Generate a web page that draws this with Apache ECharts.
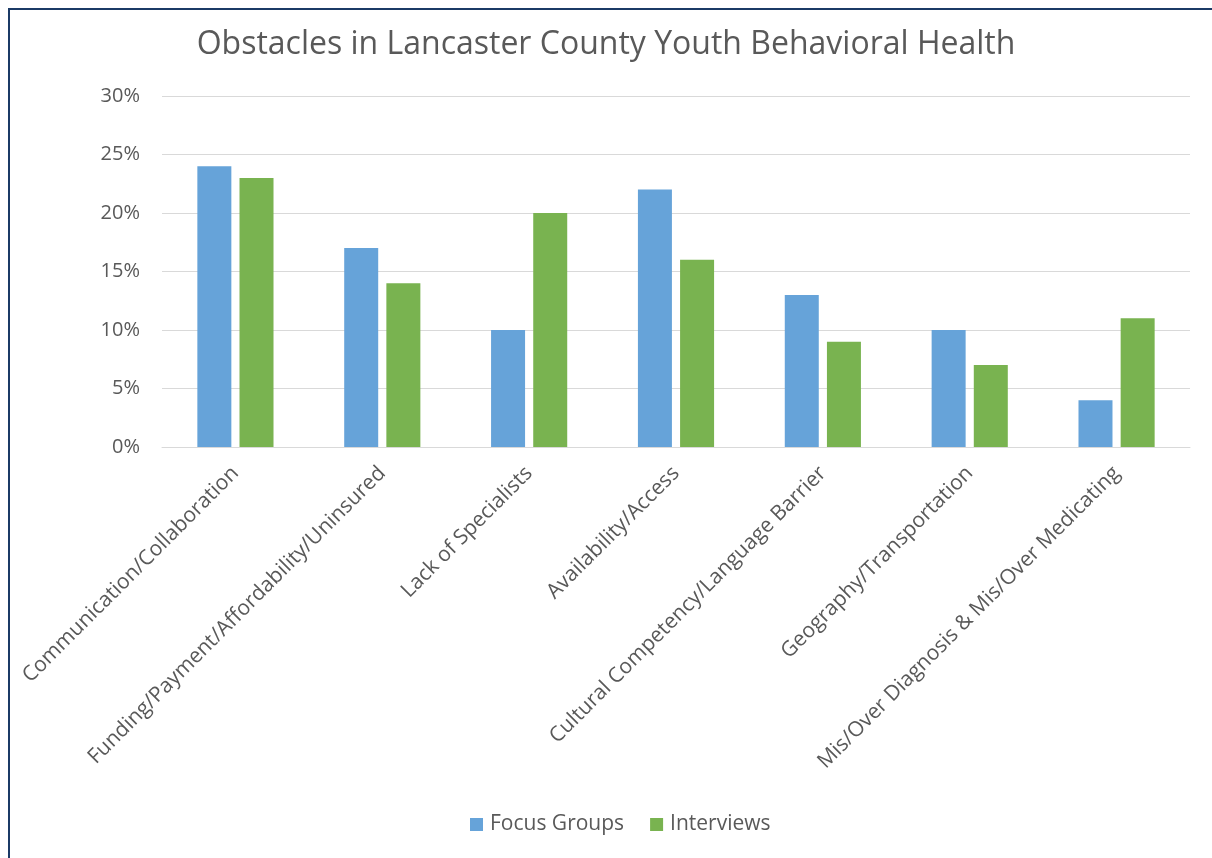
<!DOCTYPE html>
<html>
<head>
<meta charset="utf-8">
<script src="https://cdn.jsdelivr.net/npm/echarts@6/dist/echarts.min.js"></script>
<style>
  html, body { margin: 0; padding: 0; background: #ffffff; }
  #frame {
    position: absolute; left: 8px; top: 8px; width: 1220px; height: 870px;
    border-left: 2px solid #1b3a66; border-top: 2px solid #1b3a66;
    box-sizing: border-box;
  }
  #chart { position: absolute; left: 0; top: 0; width: 1212px; height: 858px; }
</style>
</head>
<body>
<div id="frame"></div>
<div id="chart"></div>
<script>
const categories = [
  'Communication/Collaboration',
  'Funding/Payment/Affordability/Uninsured',
  'Lack of Specialists',
  'Availability/Access',
  'Cultural Competency/Language Barrier',
  'Geography/Transportation',
  'Mis/Over Diagnosis & Mis/Over Medicating'
];
const focusGroups = [24, 17, 10, 22, 13, 10, 4];
const interviews = [23, 14, 20, 16, 9, 7, 11];
const yTicks = { min: 0, max: 30, interval: 5 };

const chart = echarts.init(document.getElementById('chart'));
const font = 'Open Sans, Noto Sans, sans-serif';
chart.setOption({
  animation: false,
  title: {
    text: 'Obstacles in Lancaster County Youth Behavioral Health',
    left: 'center', top: 24,
    textStyle: { fontFamily: font, fontSize: 32, fontWeight: 'normal', color: '#595959' }
  },
  legend: {
    bottom: 18, left: 465,
    itemWidth: 13, itemHeight: 13, itemGap: 26,
    icon: 'rect',
    textStyle: { fontFamily: font, fontSize: 21, color: '#595959', padding: [0, 0, 0, 2] },
    data: ['Focus Groups', 'Interviews']
  },
  grid: { left: 162, right: 22, top: 96, bottom: 411, containLabel: false },
  xAxis: {
    type: 'category',
    data: categories,
    axisLine: { show: true, lineStyle: { color: '#d9d9d9' } },
    axisTick: { show: false },
    axisLabel: {
      rotate: 45, interval: 0, margin: 23,
      fontFamily: font, fontSize: 21, color: '#595959'
    }
  },
  yAxis: {
    type: 'value',
    min: yTicks.min, max: yTicks.max, interval: yTicks.interval,
    axisLine: { show: false },
    axisTick: { show: false },
    splitLine: { lineStyle: { color: '#d9d9d9' } },
    axisLabel: {
      formatter: '{value}%', margin: 22,
      fontFamily: font, fontSize: 20, color: '#595959'
    }
  },
  series: [
    {
      name: 'Focus Groups', type: 'bar', data: focusGroups,
      barWidth: 34, barGap: '24%',
      itemStyle: { color: '#66a3d9' }
    },
    {
      name: 'Interviews', type: 'bar', data: interviews,
      barWidth: 34,
      itemStyle: { color: '#79b350' }
    }
  ]
});
</script>
</body>
</html>
